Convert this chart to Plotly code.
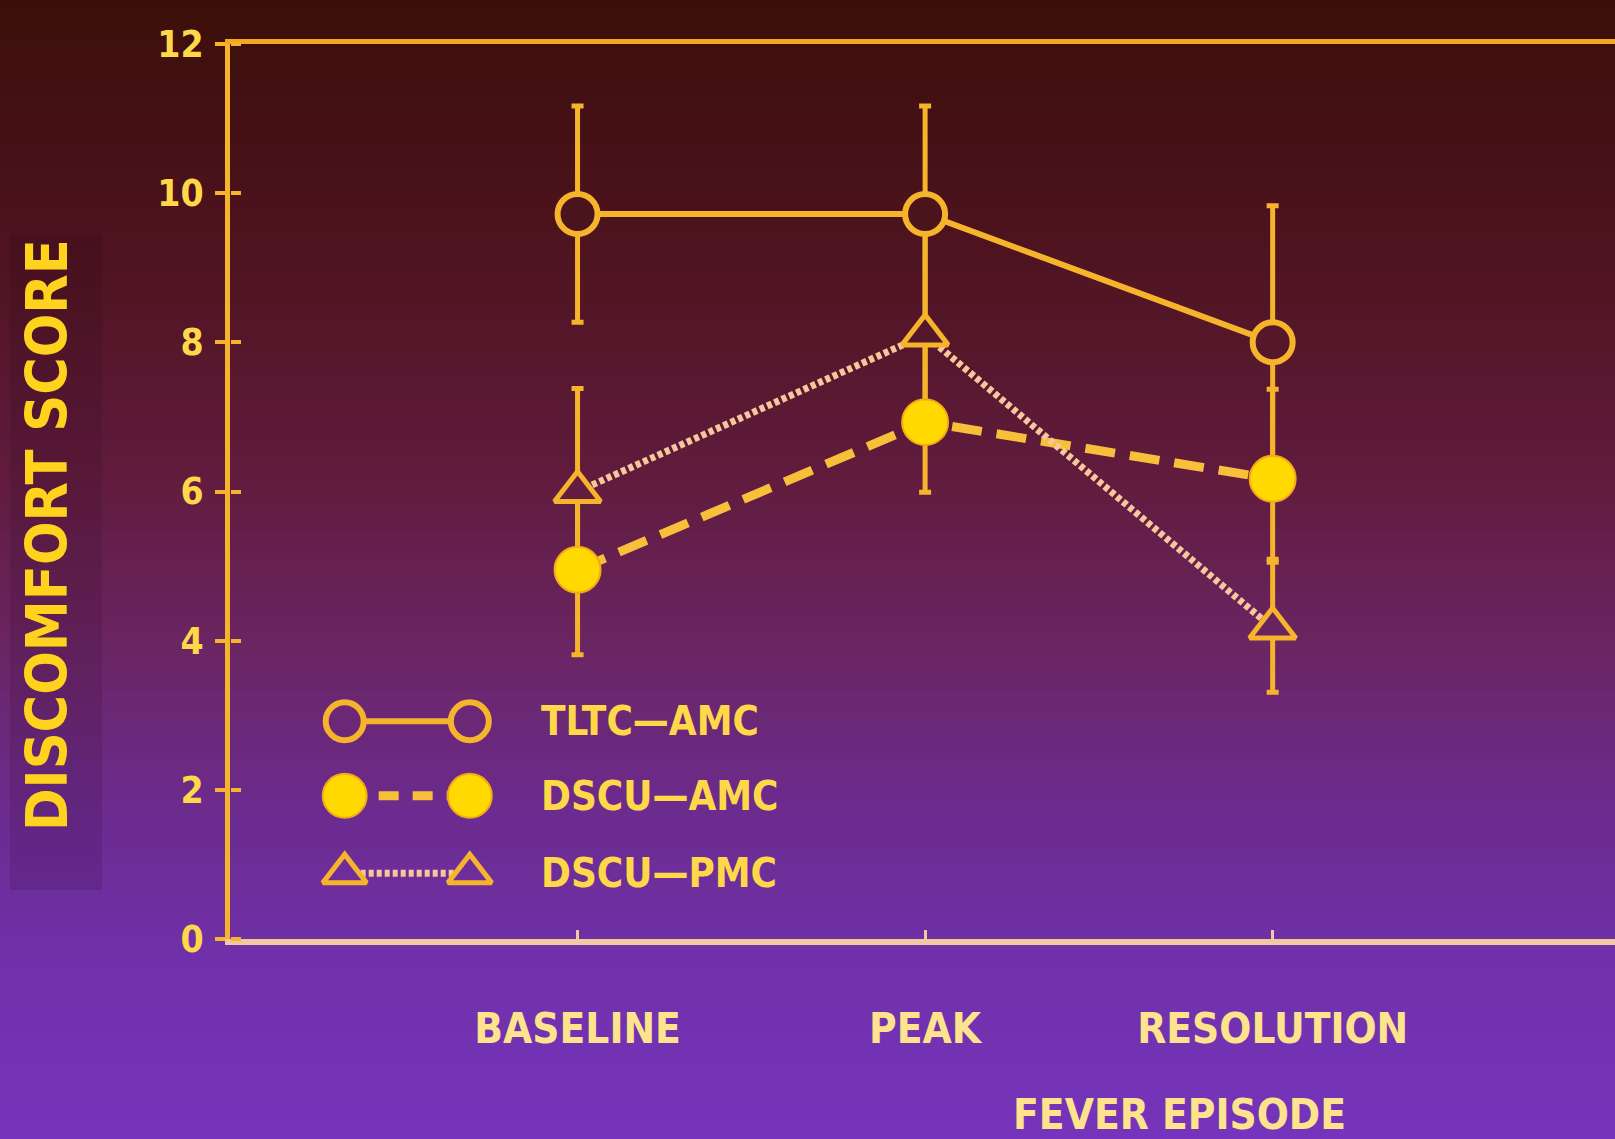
import plotly.graph_objects as go

# ---- data -------------------------------------------------------------
phases = ["BASELINE", "PEAK", "RESOLUTION"]
phase_pos = [1, 2, 3]

series_names = ["TLTC—AMC", "DSCU—AMC", "DSCU—PMC"]

tltc_amc = [9.72, 9.72, 8.0]
tltc_amc_err_up = [1.45, 1.45, 1.83]
tltc_amc_err_down = [1.45, 1.45, 1.83]

dscu_amc = [4.95, 6.93, 6.17]
dscu_amc_err_up = [1.14, 1.17, 1.20]
dscu_amc_err_down = [1.14, 0.94, 1.08]

dscu_pmc = [6.0, 8.1, 4.17]
dscu_pmc_err_up = [1.38, 1.50, 0.88]
dscu_pmc_err_down = [1.20, 1.40, 0.86]

y_ticks = [0, 2, 4, 6, 8, 10, 12]

# ---- canvas / layout constants ---------------------------------------
W, H = 1615, 1139
ML, MT, MB, MR = 230, 44, 200, 0
PW, PH = W - ML - MR, H - MT - MB
Y_MAX = 12
X_RANGE = [0, 3.985]

FONT = "Liberation Sans Narrow, DejaVu Sans Condensed, Arial Narrow, sans-serif"
LINE_COL = "#f6b42c"
TEXT_COL = "#ffd84a"
AXIS_BOTTOM_COL = "#f3c7a2"
FILL_YELLOW = "#ffd900"
DOT_COL = "#f6c79a"

# vertical background gradient (pixel row -> rgb)
grad_stops = [
    (0, (60, 16, 10)),
    (120, (68, 16, 20)),
    (300, (82, 21, 36)),
    (480, (97, 28, 62)),
    (650, (106, 37, 100)),
    (800, (108, 43, 140)),
    (950, (112, 48, 168)),
    (1139, (118, 52, 188)),
]


def bg_at(py):
    for (y0, c0), (y1, c1) in zip(grad_stops[:-1], grad_stops[1:]):
        if y0 <= py <= y1:
            t = (py - y0) / (y1 - y0)
            c = [round(a + (b - a) * t) for a, b in zip(c0, c1)]
            return "rgb({},{},{})".format(*c)
    c = grad_stops[-1][1] if py > grad_stops[-1][0] else grad_stops[0][1]
    return "rgb({},{},{})".format(*c)


def py_of(v):
    return MT + (Y_MAX - v) / Y_MAX * PH


def paper_x(px):
    return (px - ML) / PW


def paper_y(py):
    return (MT + PH - py) / PH


fig = go.Figure()

values = [tltc_amc, dscu_amc, dscu_pmc]
errs_up = [tltc_amc_err_up, dscu_amc_err_up, dscu_pmc_err_up]
errs_down = [tltc_amc_err_down, dscu_amc_err_down, dscu_pmc_err_down]
line_styles = [
    dict(color=LINE_COL, width=6, dash="solid"),
    dict(color="#f7bf3a", width=9, dash="30px,15px"),
    dict(color=DOT_COL, width=7, dash="5px,3px"),
]

# ---- error bars + connecting lines (drawn beneath the markers) --------
for vals, up, down in zip(values, errs_up, errs_down):
    fig.add_trace(go.Scatter(
        x=phase_pos, y=vals, mode="markers",
        marker=dict(size=1, color="rgba(0,0,0,0)"),
        error_y=dict(type="data", symmetric=False, array=up, arrayminus=down,
                     visible=True, color=LINE_COL, thickness=5, width=6),
        showlegend=False, hoverinfo="skip",
    ))
for vals, ls in zip(values, line_styles):
    fig.add_trace(go.Scatter(
        x=phase_pos, y=vals, mode="lines", line=ls,
        showlegend=False, hoverinfo="skip",
    ))

# ---- markers -----------------------------------------------------------
fig.add_trace(go.Scatter(
    x=phase_pos, y=tltc_amc, mode="markers", name=series_names[0],
    marker=dict(symbol="circle", size=40,
                color=[bg_at(py_of(v)) for v in tltc_amc],
                line=dict(color=LINE_COL, width=6)),
    showlegend=False,
))
fig.add_trace(go.Scatter(
    x=phase_pos, y=dscu_pmc, mode="markers", name=series_names[2],
    marker=dict(symbol="triangle-up", size=40,
                color=[bg_at(py_of(v)) for v in dscu_pmc],
                line=dict(color=LINE_COL, width=5)),
    showlegend=False,
))
fig.add_trace(go.Scatter(
    x=phase_pos, y=dscu_amc, mode="markers", name=series_names[1],
    marker=dict(symbol="circle", size=46, color=FILL_YELLOW,
                line=dict(color="#f2a818", width=2)),
    showlegend=False,
))

# ---- hand-built legend (marker — line — marker) ------------------------
LEG_X = [0.33, 0.69]
LEG_TEXT_X = 0.89
LEG_Y = [2.92, 1.92, 0.88]
leg_markers = [
    dict(symbol="circle", size=38, line=dict(color=LINE_COL, width=6)),
    dict(symbol="circle", size=44, color=FILL_YELLOW,
         line=dict(color="#f2a818", width=2)),
    dict(symbol="triangle-up", size=38, line=dict(color=LINE_COL, width=5)),
]
leg_lines = [
    dict(color=LINE_COL, width=6, dash="solid"),
    dict(color="#f7bf3a", width=9, dash="20px,14px"),
    dict(color=DOT_COL, width=7, dash="5px,3px"),
]
for i in range(3):
    fig.add_trace(go.Scatter(
        x=LEG_X, y=[LEG_Y[i]] * 2, mode="lines", line=leg_lines[i],
        showlegend=False, hoverinfo="skip",
    ))
for i in range(3):
    mk = dict(leg_markers[i])
    if "color" not in mk:
        mk["color"] = bg_at(py_of(LEG_Y[i]))
    fig.add_trace(go.Scatter(
        x=LEG_X, y=[LEG_Y[i]] * 2, mode="markers", marker=mk,
        showlegend=False, hoverinfo="skip",
    ))
    fig.add_annotation(
        x=LEG_TEXT_X, y=LEG_Y[i], xref="x", yref="y",
        text="<b>" + series_names[i] + "</b>", showarrow=False,
        xanchor="left", yanchor="middle",
        font=dict(family=FONT, size=40, color=TEXT_COL),
    )

# helper traces so the overlay axes (top rule, inward ticks) get drawn
fig.add_trace(go.Scatter(x=[None], y=[None], xaxis="x2", yaxis="y",
                         showlegend=False, hoverinfo="skip"))
fig.add_trace(go.Scatter(x=[None], y=[None], xaxis="x", yaxis="y2",
                         showlegend=False, hoverinfo="skip"))

# ---- background gradient as horizontal strips -------------------------
shapes = []
step = 10
for py in range(0, H, step):
    shapes.append(dict(
        type="rect", xref="paper", yref="paper", layer="below",
        x0=paper_x(-5), x1=paper_x(W + 5),
        y0=paper_y(py + step + 1), y1=paper_y(py),
        fillcolor=bg_at(py + step / 2), line=dict(width=0),
    ))
# slightly darker panel behind the vertical title
shapes.append(dict(
    type="rect", xref="paper", yref="paper", layer="below",
    x0=paper_x(10), x1=paper_x(102), y0=paper_y(890), y1=paper_y(235),
    fillcolor="rgba(25,0,25,0.12)", line=dict(width=0),
))

fig.update_layout(
    width=W, height=H,
    margin=dict(l=ML, r=MR, t=MT, b=MB, pad=0),
    paper_bgcolor=bg_at(600),
    plot_bgcolor="rgba(0,0,0,0)",
    shapes=shapes,
    showlegend=False,
    xaxis=dict(
        range=X_RANGE, tickvals=phase_pos,
        ticktext=["<b>" + p + "</b>" for p in phases],
        showgrid=False, zeroline=False,
        showline=True, linecolor=AXIS_BOTTOM_COL, linewidth=6,
        ticks="inside", ticklen=9, tickwidth=3, tickcolor=AXIS_BOTTOM_COL,
        ticklabelstandoff=48,
        tickfont=dict(family=FONT, size=42, color="#fde48c"),
    ),
    xaxis2=dict(
        range=X_RANGE, overlaying="x", side="top", anchor="y",
        showgrid=False, zeroline=False, showticklabels=False,
        showline=True, linecolor="#f2a820", linewidth=5, ticks="",
    ),
    yaxis=dict(
        range=[0, Y_MAX], tickvals=y_ticks,
        ticktext=["<b>%d</b>" % t for t in y_ticks],
        showgrid=False, zeroline=False,
        showline=True, linecolor=LINE_COL, linewidth=5,
        ticks="outside", ticklen=10, tickwidth=4, tickcolor=LINE_COL,
        ticklabelstandoff=4,
        tickfont=dict(family=FONT, size=37, color=TEXT_COL),
    ),
    yaxis2=dict(
        range=[0, Y_MAX], overlaying="y", side="right",
        anchor="free", position=0,
        tickvals=y_ticks, showticklabels=False,
        showgrid=False, zeroline=False, showline=False,
        ticks="outside", ticklen=10, tickwidth=4, tickcolor=LINE_COL,
    ),
)

fig.add_annotation(
    x=paper_x(47), y=paper_y(535), xref="paper", yref="paper",
    xanchor="center", yanchor="middle",
    text="<b>DISCOMFORT SCORE</b>", showarrow=False, textangle=-90,
    font=dict(family=FONT, size=57, color="#ffd21e"),
)
fig.add_annotation(
    x=paper_x(1179), y=paper_y(1114), xref="paper", yref="paper",
    xanchor="center", yanchor="middle",
    text="<b>FEVER EPISODE</b>", showarrow=False,
    font=dict(family=FONT, size=42, color="#fde48c"),
)

fig.write_html("out.html")
